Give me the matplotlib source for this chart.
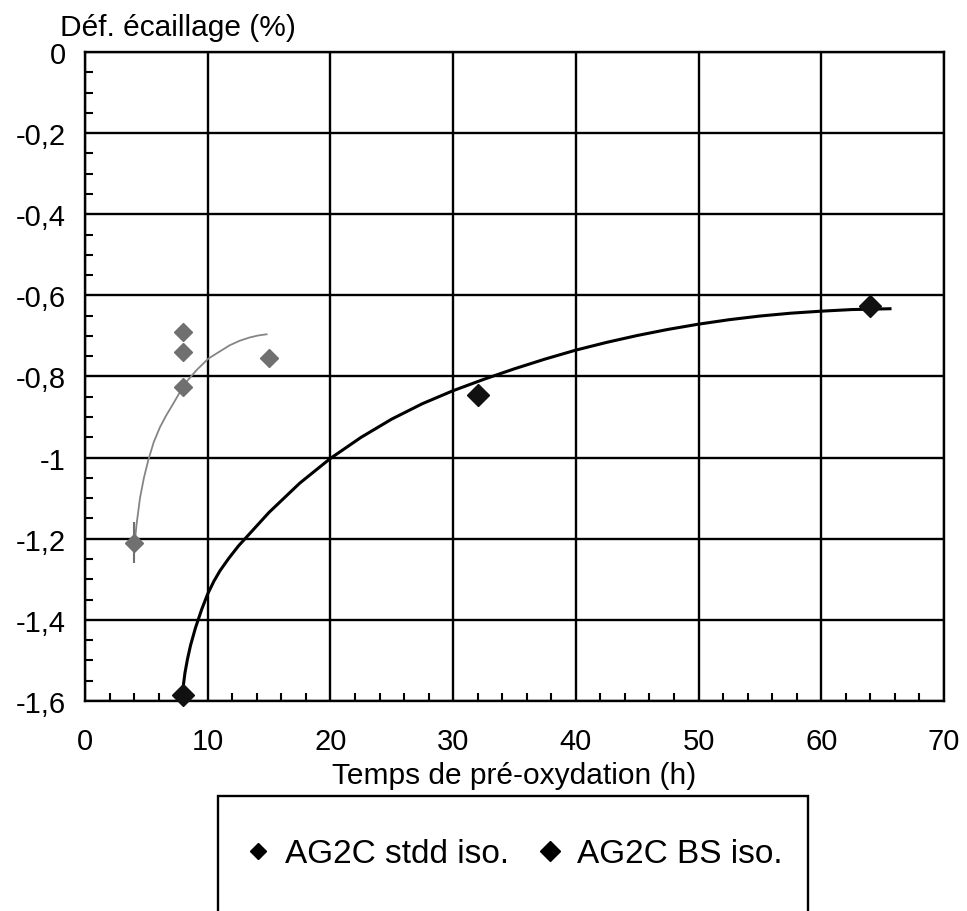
import matplotlib
matplotlib.use("Agg")
import matplotlib.pyplot as plt
from matplotlib.lines import Line2D
from matplotlib.patches import Rectangle
from matplotlib.ticker import MultipleLocator, FixedLocator, FixedFormatter

plt.rcParams["font.family"] = ["Liberation Sans", "DejaVu Sans"]

# --------------------------------------------------
# Data
# --------------------------------------------------

stdd_x = [8, 8, 15, 8, 4]
stdd_y = [-0.69, -0.74, -0.755, -0.825, -1.21]
stdd_err = [0, 0, 0, 0, 0.05]

bs_x = [8, 32, 64]
bs_y = [-1.585, -0.845, -0.627]

# trend curves
stdd_fit_x = [4.05, 4.2, 4.48, 4.8, 5.16, 5.6, 6.11, 6.6, 7.19, 8.15,
              9.1, 10.05, 11.0, 11.8, 12.6, 13.4, 14.1, 14.8]
stdd_fit_y = [-1.21, -1.165, -1.10, -1.05, -1.006, -0.962, -0.925, -0.897,
              -0.867, -0.817, -0.784, -0.756, -0.738, -0.723, -0.712,
              -0.704, -0.699, -0.696]

bs_fit_x = [7.97, 8.0, 8.15, 8.35, 8.6, 9.0, 9.5, 10.0, 10.5, 11.0, 11.7,
            12.5, 15.0, 17.5, 20.0, 22.5, 25.0, 27.5, 30.0, 32.5, 35.0,
            37.5, 40.0, 42.5, 45.0, 47.5, 50.0, 52.5, 55.0, 57.5, 60.0,
            62.5, 65.6]
bs_fit_y = [-1.585, -1.565, -1.53, -1.497, -1.463, -1.42, -1.375, -1.336,
            -1.305, -1.279, -1.249, -1.218, -1.135, -1.063, -1.002, -0.950,
            -0.905, -0.867, -0.835, -0.807, -0.781, -0.757, -0.735, -0.716,
            -0.699, -0.684, -0.671, -0.660, -0.651, -0.644, -0.639, -0.635,
            -0.633]

y_ticks = [0, -0.2, -0.4, -0.6, -0.8, -1.0, -1.2, -1.4, -1.6]
y_tick_labels = ["0", "-0,2", "-0,4", "-0,6", "-0,8", "-1", "-1,2", "-1,4", "-1,6"]
x_ticks = [0, 10, 20, 30, 40, 50, 60, 70]

legend_labels = ["AG2C stdd iso.", "AG2C BS iso."]

# --------------------------------------------------
# Figure
# --------------------------------------------------

fig = plt.figure(figsize=(9.67, 9.12), dpi=100)
ax = fig.add_axes([0.0879, 0.2303, 0.8883, 0.7116])

ax.set_xlim(0, 70)
ax.set_ylim(-1.6, 0)

ax.xaxis.set_major_locator(FixedLocator(x_ticks))
ax.xaxis.set_minor_locator(MultipleLocator(2))
ax.yaxis.set_major_locator(FixedLocator(y_ticks))
ax.yaxis.set_major_formatter(FixedFormatter(y_tick_labels))
ax.yaxis.set_minor_locator(MultipleLocator(0.05))

ax.grid(True, which="major", color="black", lw=1.7)
ax.set_axisbelow(True)

for sp in ax.spines.values():
    sp.set_linewidth(1.7)

ax.tick_params(which="both", direction="in", top=False, right=False,
               labelsize=21)
ax.tick_params(axis="x", which="major", length=0, pad=19)
ax.tick_params(axis="y", which="major", length=0, pad=14)
ax.tick_params(which="minor", length=6, width=1.5)

# gray series
ax.plot(stdd_fit_x, stdd_fit_y, color="#858585", lw=1.3, zorder=3)
ax.errorbar(stdd_x, stdd_y, yerr=stdd_err, fmt="D", ms=9.5, color="#707070",
            ecolor="#707070", elinewidth=1.5, capsize=0, zorder=4,
            clip_on=False)

# black series
ax.plot(bs_fit_x, bs_fit_y, color="black", lw=2.2, zorder=3)
ax.plot(bs_x, bs_y, "D", ms=11.5, color="#111111", zorder=4, clip_on=False)

ax.set_xlabel("Temps de pré-oxydation (h)", fontsize=21.5, labelpad=4)
fig.text(60 / 967, 1 - 36 / 912, "Déf. écaillage (%)", fontsize=21.5,
         ha="left", va="baseline")

# --------------------------------------------------
# Legend box
# --------------------------------------------------

fig.patches.append(Rectangle((218 / 967, -0.05), 590 / 967, 0.1261 + 0.05,
                             transform=fig.transFigure, fill=False,
                             edgecolor="black", lw=1.7))

handles = [
    Line2D([], [], marker="D", ls="none", color="black", ms=8),
    Line2D([], [], marker="D", ls="none", color="black", ms=10.5),
]

fig.legend(handles, legend_labels, loc="center",
           bbox_to_anchor=(512 / 967, 1 - 855 / 912), ncol=2,
           frameon=False, fontsize=24, handlelength=1.0,
           handletextpad=0.3, columnspacing=0.75)

fig.savefig("out.png", dpi=100)
